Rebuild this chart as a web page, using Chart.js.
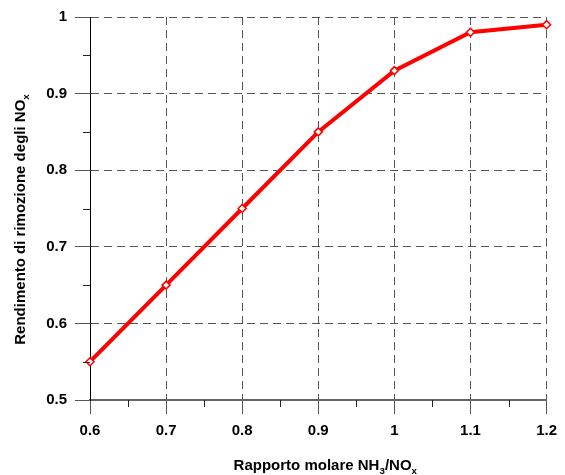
<!DOCTYPE html>
<html>
<head>
<meta charset="utf-8">
<script src="https://cdn.jsdelivr.net/npm/chart.js@4"></script>
<style>
  html, body { margin: 0; padding: 0; background: #fff; }
  canvas { display: block; }
</style>
</head>
<body>
<canvas id="chart" width="565" height="475"></canvas>
<script>
// data
const ratios = [0.6, 0.7, 0.8, 0.9, 1.0, 1.1, 1.2];
const efficiency = [0.55, 0.65, 0.75, 0.85, 0.93, 0.98, 0.99];
const minorX = [0.65, 0.75, 0.85, 0.95, 1.05, 1.15];
const minorY = [0.55, 0.65, 0.75, 0.85, 0.95];

const FONT = "'Liberation Sans', Arial, sans-serif";

// text with subscripts: parts = [[text, isSub], ...]
function drawRich(ctx, parts, size) {
  let total = 0;
  parts.forEach(p => {
    ctx.font = 'bold ' + (p[1] ? size * 0.65 : size) + 'px ' + FONT;
    total += ctx.measureText(p[0]).width;
  });
  let x = -total / 2;
  parts.forEach(p => {
    ctx.font = 'bold ' + (p[1] ? size * 0.65 : size) + 'px ' + FONT;
    ctx.fillText(p[0], x, p[1] ? 4 : 0);
    x += ctx.measureText(p[0]).width;
  });
}

const extrasPlugin = {
  id: 'extras',
  afterDraw(chart) {
    const ctx = chart.ctx;
    const xs = chart.scales.x, ys = chart.scales.y;
    const area = chart.chartArea;
    ctx.save();
    // minor ticks
    ctx.strokeStyle = '#222';
    ctx.lineWidth = 1;
    ctx.beginPath();
    minorX.forEach(v => {
      const px = Math.round(xs.getPixelForValue(v)) + 0.5;
      ctx.moveTo(px, area.bottom);
      ctx.lineTo(px, area.bottom + 7);
    });
    minorY.forEach(v => {
      const py = Math.round(ys.getPixelForValue(v)) + 0.5;
      ctx.moveTo(area.left - 7, py);
      ctx.lineTo(area.left, py);
    });
    ctx.stroke();

    // axis titles
    ctx.fillStyle = '#000';
    ctx.textBaseline = 'alphabetic';
    ctx.textAlign = 'left';
    ctx.save();
    ctx.translate((area.left + area.right) / 2 + 7, 470);
    drawRich(ctx, [['Rapporto molare NH', false], ['3', true], ['/NO', false], ['x', true]], 15);
    ctx.restore();
    ctx.save();
    ctx.translate(25, (area.top + area.bottom) / 2 + 11);
    ctx.rotate(-Math.PI / 2);
    drawRich(ctx, [['Rendimento di rimozione degli NO', false], ['x', true]], 15);
    ctx.restore();
    ctx.restore();
  }
};

new Chart(document.getElementById('chart'), {
  type: 'line',
  data: {
    datasets: [{
      data: ratios.map((r, i) => ({ x: r, y: efficiency[i] })),
      borderColor: '#ff0000',
      borderWidth: 4,
      backgroundColor: '#ffffff',
      pointStyle: 'rectRot',
      pointRadius: 4,
      pointBorderWidth: 1.5,
      pointBorderColor: '#ff0000',
      pointBackgroundColor: '#ffffff',
      tension: 0,
      clip: false
    }]
  },
  options: {
    responsive: false,
    animation: false,
    devicePixelRatio: 1,
    layout: { padding: { left: 0, top: 16, right: 11, bottom: 0 } },
    plugins: { legend: { display: false }, tooltip: { enabled: false } },
    scales: {
      x: {
        type: 'linear',
        min: 0.6,
        max: 1.2,
        afterFit(scale) { scale.height = 75; },
        ticks: {
          stepSize: 0.1,
          padding: 8,
          color: '#000',
          font: { family: FONT, size: 15, weight: 'bold' },
          callback: v => String(+v.toFixed(2))
        },
        grid: {
          color: '#555',
          lineWidth: 1,
          tickLength: 14,
          tickColor: '#555',
          tickBorderDash: []
        },
        border: { color: '#666', width: 2, dash: [8, 5] }
      },
      y: {
        type: 'linear',
        min: 0.5,
        max: 1,
        afterFit(scale) { scale.width = 90; },
        ticks: {
          stepSize: 0.1,
          padding: 8,
          color: '#000',
          font: { family: FONT, size: 15, weight: 'bold' },
          callback: v => String(+v.toFixed(2))
        },
        grid: {
          color: '#555',
          lineWidth: 1,
          tickLength: 15,
          tickColor: '#555',
          tickBorderDash: []
        },
        border: { color: '#000', width: 1, dash: [8, 5] }
      }
    }
  },
  plugins: [extrasPlugin]
});
</script>
</body>
</html>
